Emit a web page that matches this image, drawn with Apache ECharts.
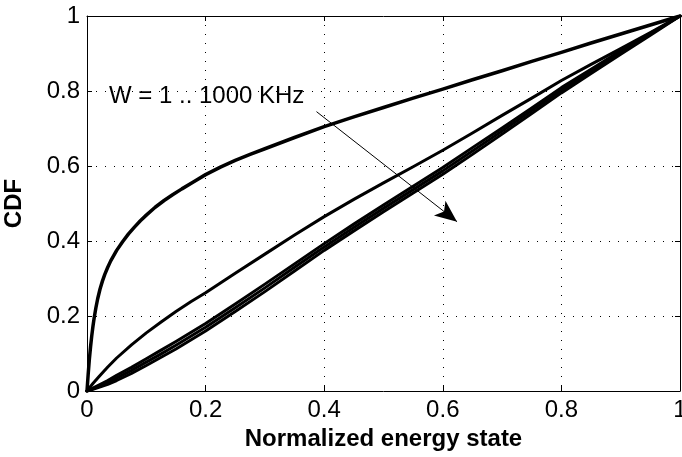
<!DOCTYPE html>
<html>
<head>
<meta charset="utf-8">
<script src="https://cdn.jsdelivr.net/npm/echarts@6/dist/echarts.min.js"></script>
<style>
html,body{margin:0;padding:0;background:#fff;}
#chart{width:682px;height:457px;}
</style>
</head>
<body>
<div id="chart"></div>
<script>
// ---- data ----
var xTicks = [0, 0.2, 0.4, 0.6, 0.8, 1];
var yTicks = [0, 0.2, 0.4, 0.6, 0.8, 1];

var topX = [0, 0.002, 0.004, 0.006, 0.008, 0.010, 0.012, 0.015, 0.018, 0.022, 0.026, 0.03, 0.035, 0.04, 0.05, 0.06, 0.07, 0.08, 0.09, 0.1, 0.115, 0.13, 0.145, 0.16, 0.18, 0.2, 0.225, 0.25, 0.275, 0.3, 0.35, 0.4, 0.45, 0.5, 0.55, 0.6, 0.65, 0.7, 0.75, 0.8, 0.85, 0.9, 0.95, 1];
var topY = [0, 0.045, 0.085, 0.118, 0.147, 0.172, 0.194, 0.222, 0.246, 0.272, 0.293, 0.311, 0.33, 0.347, 0.375, 0.398, 0.419, 0.437, 0.454, 0.469, 0.49, 0.508, 0.524, 0.539, 0.558, 0.577, 0.597, 0.615, 0.631, 0.646, 0.676, 0.705, 0.731, 0.756, 0.781, 0.805, 0.83, 0.854, 0.879, 0.903, 0.928, 0.952, 0.976, 1];

var midX = [0, 0.01, 0.02, 0.035, 0.05, 0.075, 0.1, 0.125, 0.15, 0.175, 0.2, 0.25, 0.3, 0.35, 0.4, 0.45, 0.5, 0.55, 0.6, 0.65, 0.7, 0.75, 0.8, 0.85, 0.9, 0.95, 1];
var midY = [0, 0.02, 0.038, 0.064, 0.088, 0.123, 0.155, 0.184, 0.212, 0.238, 0.262, 0.314, 0.365, 0.416, 0.465, 0.511, 0.555, 0.598, 0.642, 0.688, 0.735, 0.781, 0.828, 0.871, 0.913, 0.956, 1];

var bundleX  = [0, 0.01, 0.02, 0.035, 0.05, 0.075, 0.1, 0.125, 0.15, 0.175, 0.2, 0.25, 0.3, 0.35, 0.4, 0.45, 0.5, 0.55, 0.6, 0.65, 0.7, 0.75, 0.8, 0.85, 0.9, 0.95, 1];
var bundleLo = [0, 0.0045, 0.010, 0.018, 0.028, 0.047, 0.068, 0.090, 0.112, 0.136, 0.160, 0.212, 0.265, 0.320, 0.375, 0.427, 0.478, 0.528, 0.578, 0.631, 0.685, 0.740, 0.795, 0.847, 0.898, 0.949, 1];
var bundleMd = [0, 0.006, 0.013, 0.023, 0.035, 0.055, 0.077, 0.099, 0.122, 0.146, 0.170, 0.222, 0.275, 0.330, 0.384, 0.436, 0.487, 0.537, 0.587, 0.640, 0.693, 0.748, 0.802, 0.853, 0.903, 0.952, 1];
var bundleHi = [0, 0.0075, 0.016, 0.028, 0.042, 0.063, 0.086, 0.109, 0.132, 0.156, 0.180, 0.232, 0.285, 0.339, 0.393, 0.445, 0.496, 0.546, 0.596, 0.649, 0.701, 0.755, 0.809, 0.858, 0.907, 0.954, 1];

var annotText = 'W = 1 .. 1000 KHz';
var annotPos = [0.037, 0.787];
var arrowFrom = [0.387, 0.745];
var arrowTo = [0.624, 0.4515];

var xName = 'Normalized energy state';
var yName = 'CDF';

// ---- chart ----
function pairs(xs, ys) { return xs.map(function (x, i) { return [x, ys[i]]; }); }
var FONT = '"Liberation Sans", Arial, Helvetica, sans-serif';

var chart = echarts.init(document.getElementById('chart'), null, {renderer: 'canvas'});

function lineSeries(data, w) {
  return {
    type: 'line', data: data, xAxisIndex: 0, yAxisIndex: 0,
    showSymbol: false, symbol: 'none', smooth: false,
    lineStyle: {color: '#000', width: w, join: 'round', cap: 'round'}, silent: true, z: 3
  };
}

var sTop = lineSeries(pairs(topX, topY), 3.5);
var sMid = lineSeries(pairs(midX, midY), 3);
var sLo = lineSeries(pairs(bundleX, bundleLo), 3);
var sMd = lineSeries(pairs(bundleX, bundleMd), 3);
var sHi = lineSeries(pairs(bundleX, bundleHi), 3);

sTop.markLine = {
  silent: true, animation: false,
  lineStyle: {color: '#000', width: 1, type: 'solid'},
  label: {show: false},
  data: [[
    {coord: arrowFrom, symbol: 'none'},
    {coord: arrowTo, symbol: 'arrow', symbolSize: [14, 22]}
  ]]
};
sTop.markPoint = {
  silent: true, animation: false,
  symbol: 'circle', symbolSize: 0,
  label: {show: true, position: 'right', distance: 0, color: '#000', fontSize: 24, fontFamily: FONT, formatter: annotText},
  data: [{coord: annotPos}]
};

var axisCommon = {
  type: 'value', min: 0, max: 1, interval: 0.2,
  axisLine: {show: true, onZero: false, lineStyle: {color: '#000', width: 1}},
  axisTick: {show: true, inside: true, length: 5, lineStyle: {color: '#000', width: 1}},
  splitLine: {show: false}
};

var option = {
  animation: false,
  backgroundColor: '#fff',
  grid: {left: 87, right: 2, top: 16, bottom: 66, containLabel: false, outerBoundsMode: 'none'},
  xAxis: [
    Object.assign({}, axisCommon, {
      position: 'bottom',
      name: xName, nameLocation: 'middle', nameGap: 35,
      nameTextStyle: {color: '#000', fontSize: 24, fontWeight: 'bold', fontFamily: FONT},
      axisLabel: {color: '#000', fontSize: 24, fontFamily: FONT, margin: 7},
      splitLine: {show: true, lineStyle: {color: '#000', width: 1, type: [1, 8]}}
    }),
    Object.assign({}, axisCommon, {position: 'top', axisLabel: {show: false}})
  ],
  yAxis: [
    Object.assign({}, axisCommon, {
      position: 'left',
      name: yName, nameLocation: 'middle', nameGap: 61, nameRotate: 90,
      nameTextStyle: {color: '#000', fontSize: 24, fontWeight: 'bold', fontFamily: FONT},
      axisLabel: {color: '#000', fontSize: 24, fontFamily: FONT, margin: 7},
      splitLine: {show: true, lineStyle: {color: '#000', width: 1, type: [1, 8]}}
    }),
    Object.assign({}, axisCommon, {position: 'right', axisLabel: {show: false}})
  ],
  series: [sTop, sMid, sLo, sMd, sHi]
};
chart.setOption(option);
</script>
</body>
</html>
